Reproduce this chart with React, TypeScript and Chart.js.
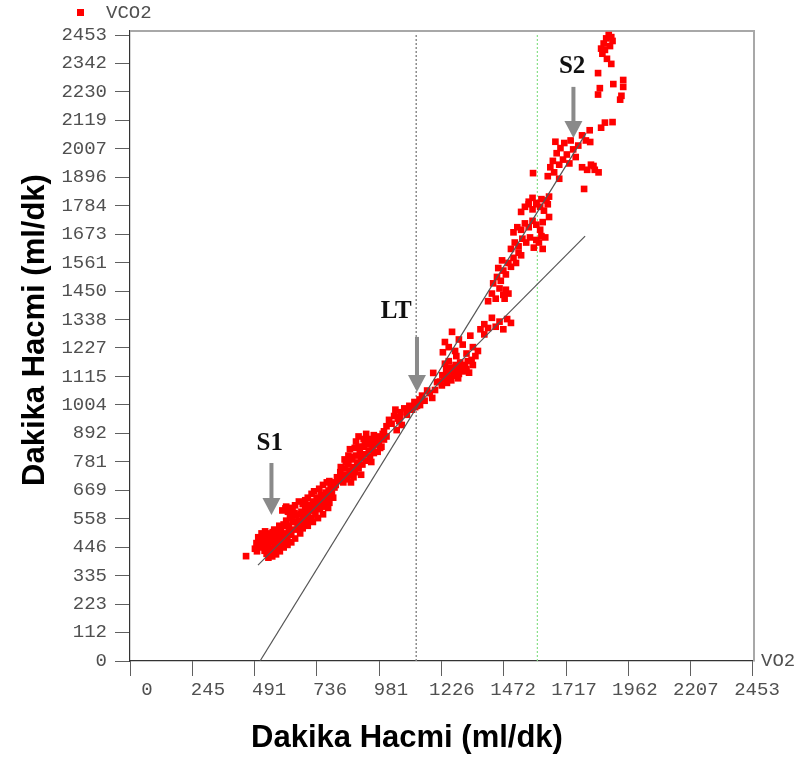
import React, { useEffect, useRef } from "react";
import { Chart, registerables } from "chart.js";

Chart.register(...registerables);

const xTickValues = [0, 245, 491, 736, 981, 1226, 1472, 1717, 1962, 2207, 2453];
const yTickValues = [0, 112, 223, 335, 446, 558, 669, 781, 892, 1004, 1115, 1227, 1338, 1450, 1561, 1673, 1784, 1896, 2007, 2119, 2230, 2342, 2453];

const seriesName = "VCO2";
const xAxisName = "VO2";
const axisTitle = "Dakika Hacmi (ml/dk)";

// [VO2, VCO2]
const vco2Points: [number, number][] = [
  [457, 411],
  [492, 440], [498, 462], [505, 452], [510, 470], [500, 430], [515, 445], [520, 478], [525, 460], [530, 432], [528, 490], [535, 470], [540, 452], [538, 420], [545, 500], [548, 480], [552, 440], [555, 465], [560, 425], [562, 505], [565, 488], [570, 455], [572, 470], [575, 438], [580, 510], [583, 492], [586, 448], [590, 475], [595, 520], [598, 462],
  [600, 590], [612, 598], [622, 585], [640, 592], [648, 580],
  [605, 535], [610, 500], [615, 550], [620, 478], [625, 520], [630, 560], [635, 495], [640, 545], [648, 515], [655, 570], [660, 530], [665, 548], [670, 500], [675, 585], [680, 560], [685, 530], [690, 600], [695, 572], [700, 545], [705, 612], [710, 590], [715, 560], [720, 625], [725, 600], [730, 575], [735, 640], [740, 612], [748, 595], [752, 650], [758, 628], [765, 605], [770, 660], [778, 640], [785, 620], [790, 690], [795, 660], [800, 700], [805, 680], [785, 705],
  [505, 485], [518, 500], [532, 508], [545, 445], [558, 492], [568, 515], [578, 470], [588, 530], [592, 498], [603, 482], [618, 530], [628, 505], [638, 570], [652, 545], [662, 520], [672, 575], [682, 548], [692, 580], [702, 565], [712, 610], [722, 590], [732, 620], [742, 630], [755, 610], [762, 640], [772, 625], [782, 668], [792, 645],
  [560, 410], [575, 418], [590, 430], [605, 445], [620, 455], [635, 465], [650, 480], [545, 405],
  [650, 610], [665, 625], [680, 615], [700, 640], [715, 655], [690, 630], [725, 665], [745, 675], [760, 690], [775, 700], [630, 600], [615, 605],
  [680, 520], [700, 530], [720, 545], [740, 560], [760, 575], [780, 600], [800, 640],
  [810, 690], [815, 720], [820, 705], [828, 740], [835, 718], [840, 700], [845, 755], [850, 730], [855, 712], [860, 770], [865, 745], [870, 728], [875, 790], [880, 760], [885, 740], [890, 805], [895, 778], [900, 755], [905, 820], [910, 795], [915, 770], [920, 840], [925, 810], [930, 785], [935, 850], [940, 825], [945, 800], [950, 862], [955, 838], [960, 815], [965, 870], [970, 848], [975, 880], [980, 858], [985, 835], [990, 875], [995, 890], [1000, 868], [870, 800], [900, 840], [925, 860], [866, 830], [885, 835], [850, 780], [830, 760], [945, 870], [960, 885],
  [900, 880], [890, 860], [910, 730], [880, 720], [930, 890], [870, 700], [950, 780], [975, 820], [990, 840], [845, 790], [860, 805], [920, 870], [1000, 900], [1010, 880],
  [1010, 920], [1020, 945], [1030, 930], [1040, 960], [1050, 905], [1055, 950], [1065, 975], [1070, 925], [1080, 990], [1090, 965], [1100, 1000], [1110, 985], [1120, 1015], [1130, 1000], [1140, 1025], [1060, 940], [1045, 985], [1091, 984], [1123, 995], [1142, 1003], [1063, 956],
  [1150, 1040], [1160, 1020], [1170, 1060], [1180, 1050],
  [1190, 1031], [1201, 1062], [1194, 1129], [1209, 1093],
  [1221, 1095], [1230, 1120], [1238, 1105], [1245, 1140], [1250, 1125], [1258, 1110], [1262, 1150], [1270, 1135], [1275, 1118], [1282, 1160], [1288, 1142], [1295, 1125], [1300, 1170], [1305, 1150], [1312, 1135], [1318, 1160], [1325, 1145], [1330, 1175], [1240, 1165], [1255, 1175], [1335, 1130], [1345, 1180], [1350, 1160], [1228, 1080], [1248, 1090], [1265, 1100], [1280, 1130], [1292, 1108],
  [1232, 1210], [1240, 1250], [1255, 1230], [1268, 1290], [1280, 1215], [1295, 1260], [1310, 1240], [1325, 1205], [1340, 1275], [1350, 1230], [1285, 1195], [1360, 1195], [1370, 1215],
  [1380, 1300], [1395, 1320], [1410, 1305], [1425, 1345], [1440, 1310], [1455, 1330], [1470, 1300], [1485, 1340], [1500, 1325], [1395, 1280],
  [1410, 1410], [1425, 1440], [1440, 1420], [1455, 1460], [1470, 1435], [1480, 1455], [1475, 1420], [1490, 1440],
  [1430, 1480], [1445, 1505], [1460, 1490], [1470, 1530], [1480, 1515], [1490, 1560], [1500, 1545], [1510, 1580], [1520, 1560], [1530, 1600], [1540, 1590], [1450, 1540], [1465, 1570],
  [1500, 1615], [1515, 1640], [1530, 1625], [1545, 1655], [1560, 1640], [1575, 1660], [1590, 1620], [1600, 1650],
  [1510, 1680], [1525, 1700], [1540, 1690], [1555, 1715], [1570, 1700], [1585, 1725], [1600, 1710], [1615, 1690], [1625, 1720],
  [1540, 1760], [1555, 1780], [1570, 1790], [1585, 1770], [1600, 1795], [1615, 1780], [1630, 1765], [1645, 1790], [1650, 1740],
  [1610, 1640], [1625, 1615], [1635, 1660], [1620, 1665],
  [1570, 1800], [1585, 1815], [1600, 1790], [1620, 1810], [1640, 1805], [1650, 1820],
  [1587, 1912],
  [1645, 1900], [1655, 1935], [1665, 1960], [1670, 1915], [1680, 1990], [1690, 1945], [1695, 2010], [1705, 1965], [1710, 2030], [1720, 1985], [1730, 1950], [1735, 2040], [1745, 2005], [1755, 1975], [1765, 2020], [1675, 2035], [1690, 1890],
  [1780, 2060], [1795, 2040], [1810, 2080],
  [1815, 1945], [1830, 1925], [1845, 1915],
  [1788, 1850],
  [1855, 2400], [1865, 2420], [1875, 2440], [1885, 2453], [1895, 2445], [1870, 2395], [1890, 2410], [1900, 2430], [1860, 2380], [1878, 2360], [1895, 2340], [1843, 2304], [1843, 2220], [1850, 2245], [1903, 2261], [1942, 2277], [1942, 2250], [1930, 2200], [1935, 2215], [1855, 2090], [1870, 2110], [1900, 2112], [1812, 2034], [1780, 1935], [1800, 1925], [1825, 1940],
];

const regressionLow: [number, number][] = [[504, 376], [1792, 1665]];
const regressionHigh: [number, number][] = [[512, 0], [1796, 2069]];
const ltLine: [number, number][] = [[1127, 0], [1127, 2453]];
const vtLine: [number, number][] = [[1604, 0], [1604, 2453]];

const markerLabels = ["S1", "LT", "S2"];
const markerTextX = [550, 1048, 1741];
const markerTextY = [854, 1368, 2328];
const markerArrowX = [557, 1130, 1746];
const markerArrowTop = [776, 1270, 2250];
const markerArrowTip = [572, 1054, 2050];

const MONO = "'Liberation Mono', 'DejaVu Sans Mono', monospace";
const LABEL_COLOR = "#505050";

const toXY = (arr: [number, number][]) => arr.map(([x, y]) => ({ x, y }));

const decorPlugin = {
  id: "decor",
  beforeDatasetsDraw(chart: any) {
    const { ctx, chartArea: a } = chart;
    ctx.save();
    ctx.strokeStyle = "#a8a8a8";
    ctx.lineWidth = 2;
    ctx.beginPath();
    ctx.moveTo(a.left, a.top);
    ctx.lineTo(a.right, a.top);
    ctx.lineTo(a.right, a.bottom);
    ctx.stroke();
    ctx.restore();
  },
  afterDraw(chart: any) {
    const { ctx, chartArea: a } = chart;
    const xs = chart.scales.x;
    const ys = chart.scales.y;
    ctx.save();
    for (let i = 0; i < markerLabels.length; i++) {
      const ax = xs.getPixelForValue(markerArrowX[i]);
      const top = ys.getPixelForValue(markerArrowTop[i]);
      const tip = ys.getPixelForValue(markerArrowTip[i]);
      const head = 17;
      ctx.fillStyle = "#8a8a8a";
      ctx.fillRect(ax - 2, top, 4, tip - head - top + 1);
      ctx.beginPath();
      ctx.moveTo(ax - 9, tip - head);
      ctx.lineTo(ax + 9, tip - head);
      ctx.lineTo(ax, tip);
      ctx.closePath();
      ctx.fill();
      ctx.fillStyle = "#111";
      ctx.font = "bold 25px 'Liberation Serif', 'Times New Roman', serif";
      ctx.textAlign = "center";
      ctx.textBaseline = "middle";
      ctx.fillText(markerLabels[i], xs.getPixelForValue(markerTextX[i]), ys.getPixelForValue(markerTextY[i]));
    }
    ctx.fillStyle = "#ff0000";
    ctx.fillRect(77, 9, 7, 7);
    ctx.fillStyle = LABEL_COLOR;
    ctx.font = `19px ${MONO}`;
    ctx.textAlign = "left";
    ctx.textBaseline = "middle";
    ctx.fillText(seriesName, 106, 13);
    ctx.fillText(xAxisName, a.right + 7, a.bottom);
    ctx.fillStyle = "#000";
    ctx.font = "bold 31px 'Liberation Sans', Arial, sans-serif";
    ctx.textAlign = "center";
    ctx.fillText(axisTitle, 407, 738);
    ctx.translate(35, 330);
    ctx.rotate(-Math.PI / 2);
    ctx.fillText(axisTitle, 0, 0);
    ctx.restore();
  },
};

export default function App() {
  const ref = useRef<HTMLCanvasElement | null>(null);
  useEffect(() => {
    if (!ref.current) return;
    const chart = new Chart(ref.current, {
      type: "scatter",
      data: {
        datasets: [
          {
            label: seriesName,
            data: toXY(vco2Points),
            pointStyle: "rect",
            pointRadius: 4.7,
            backgroundColor: "#ff0000",
            borderColor: "#ff0000",
            borderWidth: 0,
            order: 2,
          },
          {
            label: "fitHigh",
            data: toXY(regressionHigh),
            showLine: true,
            pointRadius: 0,
            borderColor: "#555555",
            borderWidth: 1.2,
            order: 0,
          },
          {
            label: "fitLow",
            data: toXY(regressionLow),
            showLine: true,
            pointRadius: 0,
            borderColor: "#555555",
            borderWidth: 1.2,
            order: 0,
          },
          {
            label: "LT",
            data: toXY(ltLine),
            showLine: true,
            pointRadius: 0,
            borderColor: "#8c8c8c",
            borderWidth: 1.5,
            borderDash: [2, 2],
            order: 3,
          },
          {
            label: "VT",
            data: toXY(vtLine),
            showLine: true,
            pointRadius: 0,
            borderColor: "#88e088",
            borderWidth: 1.2,
            borderDash: [2, 2],
            order: 3,
          },
        ],
      },
      options: {
        animation: false,
        responsive: false,
        maintainAspectRatio: false,
        layout: { padding: { top: 31, right: 46, left: 0, bottom: 0 } },
        plugins: { legend: { display: false }, tooltip: { enabled: false }, title: { display: false } },
        scales: {
          x: {
            type: "linear",
            position: "bottom",
            min: 0,
            max: 2457,
            weight: 0,
            afterBuildTicks: (s: any) => {
              s.ticks = xTickValues.map((v) => ({ value: v }));
            },
            afterFit: (s: any) => {
              s.height = 15;
              s.paddingLeft = 0;
              s.paddingRight = 0;
            },
            grid: { display: true, drawOnChartArea: false, drawTicks: true, tickLength: 15, color: "#606060", lineWidth: 1 },
            border: { display: true, color: "#333", width: 1.2 },
            ticks: { display: false },
          },
          xLabels: {
            type: "linear",
            position: "bottom",
            min: -68.4,
            max: 2440.9,
            weight: 1,
            afterBuildTicks: (s: any) => {
              s.ticks = xTickValues.map((v) => ({ value: v }));
            },
            afterFit: (s: any) => {
              s.height = 84;
              s.paddingLeft = 0;
              s.paddingRight = 0;
            },
            grid: { display: false, drawTicks: false },
            border: { display: false },
            ticks: {
              autoSkip: false,
              maxRotation: 0,
              padding: 3,
              color: LABEL_COLOR,
              font: { family: MONO, size: 19 },
              callback: (v: any) => String(v),
            },
          },
          y: {
            type: "linear",
            position: "left",
            min: 0,
            max: 2469,
            afterBuildTicks: (s: any) => {
              s.ticks = yTickValues.map((v) => ({ value: v }));
            },
            afterFit: (s: any) => {
              s.width = 130;
              s.paddingTop = 0;
              s.paddingBottom = 0;
            },
            grid: { display: true, drawOnChartArea: false, drawTicks: true, tickLength: 15, color: "#606060", lineWidth: 1 },
            border: { display: true, color: "#333", width: 1.2 },
            ticks: {
              autoSkip: false,
              padding: 8,
              color: LABEL_COLOR,
              font: { family: MONO, size: 19 },
              callback: (v: any) => String(v),
            },
          },
        },
      } as any,
      plugins: [decorPlugin],
    });
    return () => chart.destroy();
  }, []);
  return (
    <div style={{ position: "fixed", left: 0, top: 0, width: 800, height: 760, background: "#fff" }}>
      <canvas ref={ref} width={800} height={760} style={{ width: 800, height: 760 }} />
    </div>
  );
}
